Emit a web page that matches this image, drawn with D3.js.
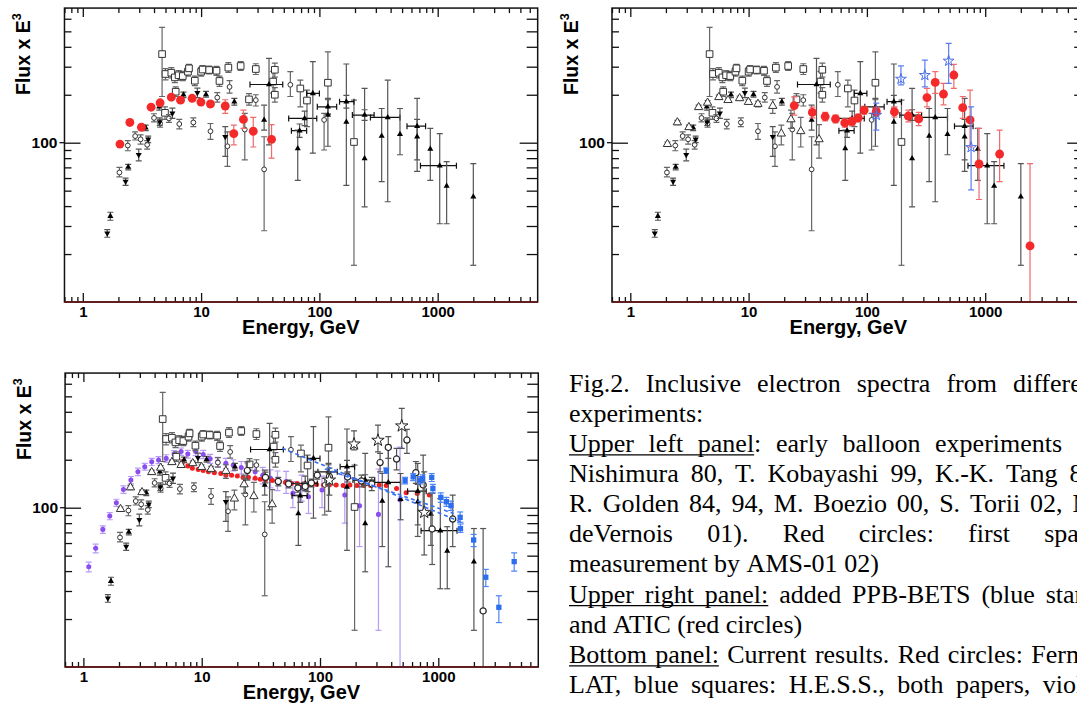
<!DOCTYPE html>
<html>
<head>
<meta charset="utf-8">
<script src="https://cdn.jsdelivr.net/npm/d3@7"></script>
<style>
  body { margin: 0; background: #fff; }
  svg { display: block; }
  .ax { font-family: "Liberation Sans", Arial, sans-serif; font-weight: bold; fill: #000; }
  .cap { font-family: "Liberation Serif", "Times New Roman", serif; font-size: 26px; fill: #000; }
</style>
</head>
<body>
<script>
// values: [energy GeV, flux x E^3, err low, err high, (E low, E high)]
var xTicks = [1, 10, 100, 1000];
var yTicks = [100];

// early balloon data (black, shown in every panel)
var balloonSquares = [
  [4.68, 360, 195, 530], [5.0, 270, 248, 292], [5.6, 275, 255, 296], [6.0, 257, 238, 276],
  [6.45, 265, 247, 284], [7.0, 262, 245, 280], [7.74, 279, 262, 297], [7.9, 293, 276, 310],
  [8.85, 245, 228, 262], [10.0, 279, 262, 296], [10.3, 288, 272, 305], [11.7, 286, 270, 303],
  [13.5, 283, 265, 301], [14.3, 244, 226, 262], [17.0, 296, 276, 318], [21.6, 303, 284, 323],
  [29.0, 290, 268, 313], [40.6, 242, 205, 280], [42.0, 287, 258, 316], [42.0, 200, 180, 222],
  [6.1, 209, 195, 224], [4.95, 154, 140, 168], [69, 219, 168, 247], [118, 238, 150, 372],
  [196, 101, 17, 185], [25.4, 187, 172, 203], [78.5, 184, 126, 214]
];
var balloonCircles = [
  [2.04, 65, 61, 70], [2.4, 96, 89, 103], [2.77, 110, 104, 117], [3.08, 105, 98, 112],
  [3.5, 97, 91, 103], [4.0, 143, 135, 152], [4.5, 132, 125, 140], [5.35, 142, 134, 150],
  [6.54, 131, 122, 140], [8.6, 134, 126, 143], [12.0, 118, 105, 132], [16.7, 95, 71, 117],
  [23.4, 121, 78, 153], [34.1, 68, 28, 109], [13.7, 192, 180, 206], [17.4, 224, 205, 245],
  [29.0, 185, 170, 200], [56.8, 231, 195, 279], [109.6, 139, 90, 153]
];
var balloonTriUp = [
  [1.71, 34.6, 32.6, 36.6], [2.42, 70.3, 67.5, 73], [3.4, 124, 119, 129], [4.43, 168, 160, 176],
  [7.1, 200, 192, 208], [11.0, 201, 193, 210], [19.1, 181, 172, 190], [34.1, 139, 120, 172],
  [37.5, 232, 97, 338, 25.9, 49], [75, 142, 128, 158, 55, 95], [68, 119, 108, 131, 58, 78],
  [65.6, 92, 58, 120], [88, 204, 86, 323, 78, 100], [118, 168, 152, 186, 96, 140],
  [118, 149, 95, 190], [169, 181, 165, 198, 148, 196], [169, 135, 54, 312],
  [241, 149, 138, 161, 190, 290], [241, 79.7, 39.6, 219], [336, 110, 57, 164],
  [378, 144, 42.6, 247, 270, 480], [480, 113, 84, 164], [670, 127, 66, 190, 550, 790],
  [670, 109, 78, 140], [866, 91.3, 58, 123], [1040, 71.7, 31, 114, 715, 1440],
  [1190, 53.5, 31, 76], [2000, 45.8, 17, 74]
];
var balloonTriDown = [
  [1.61, 27, 25.5, 28.5], [2.3, 57, 54, 60], [2.97, 84, 77, 91], [3.57, 105, 100, 110],
  [4.47, 135, 128, 143], [5.72, 153, 142, 165], [9.3, 206, 192, 220], [16.0, 109, 82, 126]
];

// AMS-01 (red in upper left, open triangles elsewhere)
var ams01 = [
  [2.06, 98, 95, 101], [2.5, 134, 130, 138], [3.13, 125, 121, 129], [3.78, 167, 162, 172],
  [4.5, 178, 172, 184], [5.6, 193, 187, 199], [6.7, 185, 179, 191], [8.4, 190, 184, 196],
  [9.97, 180, 174, 186], [12.0, 175, 168, 182], [16.0, 170, 153, 186], [18.9, 114, 97, 129],
  [22.8, 140, 123, 160], [27.6, 118, 94, 144], [39.4, 105, 80, 130]
];

// PPB-BETS
var ppbBets = [
  [120, 149, 120, 177], [194, 251, 231, 304], [309, 265, 224, 330], [491, 326, 236, 420], [760, 93.5, 50.5, 168]
];

// ATIC
var atic = [
  [24.3, 171, 149, 194], [34.6, 155, 143, 167], [44.4, 146, 137, 155], [54.3, 141, 133, 149],
  [65, 133, 125, 141], [75, 136, 128, 144], [84.6, 143, 135, 151], [94.8, 160, 151, 169],
  [120, 157, 147, 167], [171, 156, 145, 168], [224, 147, 135, 160], [274, 141, 128, 155],
  [322, 192, 168, 219], [378, 239, 204, 279], [444, 202, 173, 236], [543, 266, 219, 310],
  [646, 166, 142, 195], [745, 139, 94, 214], [887, 73.5, 44, 123], [1324, 84.9, 57, 120],
  [2393, 22.5, 5, 74]
];

// Fermi LAT
var fermi = [
  [6.82, 190, 180, 200], [7.64, 183], [8.34, 177], [9.35, 174], [10.3, 171], [11.4, 168],
  [12.8, 166], [14.5, 164], [16.0, 160], [17.9, 160], [20.0, 158], [22.4, 155], [24.8, 155],
  [28.3, 153], [31.3, 151], [34.6, 149], [39.6, 148], [44.7, 146], [51.1, 144], [57.3, 142],
  [64.2, 142], [72.4, 141], [82.8, 140], [93.5, 140], [107, 139], [120, 139], [137, 139],
  [157, 138], [179, 139], [205, 138], [235, 138], [268, 138], [317, 139], [363, 138],
  [444, 132], [535, 124], [664, 123], [840, 120]
];

// H.E.S.S.
var hess = [
  [363, 171, 164, 178], [524, 148, 141, 155], [613, 156, 148, 164], [700, 149, 141, 157],
  [738, 153, 145, 161], [880, 155, 146, 164], [900, 132, 124, 140], [1050, 116, 108, 124],
  [1170, 109, 102, 116], [1280, 103, 96, 110], [1530, 87, 81, 94], [1540, 74, 70, 79],
  [1990, 62.7, 57, 68], [2520, 36.6, 32, 41], [3250, 23.7, 19, 28], [4380, 45.8, 40, 52]
];
var hessBandUpper = [[48, 236], [1640, 80]];
var hessBandLower = [[110, 175], [1350, 92]];

// violet points
var violet = [
  [1.11, 42.6, 39.5, 45.5], [1.27, 55.6, 52, 59], [1.46, 73.1, 69, 77], [1.67, 88.6, 84, 93],
  [1.9, 107.5, 102, 113], [2.18, 130, 123, 137], [2.52, 149, 141, 157], [2.89, 168, 159, 177],
  [3.3, 181, 172, 190], [3.78, 194, 184, 204], [4.32, 199, 189, 209], [5.01, 204, 193, 215],
  [5.84, 217, 206, 228], [6.7, 225, 213, 237], [7.63, 217, 205, 229], [8.9, 225, 212, 238],
  [10.3, 216, 203, 229], [11.8, 203, 190, 216], [13.7, 194, 181, 207], [16, 190, 176, 204],
  [18.5, 185, 170, 200], [21.6, 179, 163, 195], [24.4, 172, 155, 189], [28.3, 168, 150, 186],
  [32.8, 160, 141, 179], [38.2, 153, 133, 173], [43.7, 149, 128, 170], [51.7, 146, 123, 169],
  [59, 123, 100, 146], [70, 135, 110, 160], [80, 117, 92, 142], [104, 129, 100, 158],
  [162, 120, 80, 160], [216, 103, 57, 150], [312, 90.8, 17, 175], [475, 112, 5, 240]
];

var captionLines = [
  "Fig.2. Inclusive electron spectra from different",
  "experiments:",
  "Upper left panel: early balloon experiments (J.",
  "Nishimura 80, T. Kobayashi 99, K.-K. Tang 84,",
  "R. Golden 84, 94, M. Boezio 00, S. Torii 02, M.",
  "deVernois 01). Red circles: first space",
  "measurement by AMS-01 02)",
  "Upper right panel: added PPB-BETS (blue stars)",
  "and ATIC (red circles)",
  "Bottom panel: Current results. Red circles: Fermi-",
  "LAT, blue squares: H.E.S.S., both papers, violet"
];
var captionJustified = [true, false, true, true, true, true, false, true, false, true, true];
var captionUnderline = ["", "", "Upper left panel", "", "", "", "", "Upper right panel:", "", "Bottom panel:", ""];

var width = 1077;
var height = 704;

var svg = d3.select("body").append("svg")
  .attr("width", width)
  .attr("height", height);

var decX = 118.3, decY = 159.3;

var panels = [
  {id: "ul", ox: 82.8, base: 302},
  {id: "ur", ox: 630.3, base: 302},
  {id: "bt", ox: 83.4, base: 667}
];

function drawSeries(g, x, y, data, st) {
  var eb = g.append("g").attr("stroke", st.err).attr("stroke-width", st.ew || 1.2).attr("fill", "none");
  var cw = st.cap == null ? 3 : st.cap;
  data.forEach(function(d) {
    var px = x(d[0]), py = y(d[1]);
    if (d[2] != null) {
      var a = y(d[2]), b = y(d[3]);
      eb.append("line").attr("x1", px).attr("x2", px).attr("y1", a).attr("y2", b);
      if (cw > 0) {
        eb.append("line").attr("x1", px - cw).attr("x2", px + cw).attr("y1", a).attr("y2", a);
        eb.append("line").attr("x1", px - cw).attr("x2", px + cw).attr("y1", b).attr("y2", b);
      }
    }
    if (d[4] != null) {
      var l = x(d[4]), r = x(d[5]);
      eb.append("line").attr("x1", l).attr("x2", r).attr("y1", py).attr("y2", py).attr("stroke", "#111");
      eb.append("line").attr("x1", l).attr("x2", l).attr("y1", py - 3).attr("y2", py + 3).attr("stroke", "#111");
      eb.append("line").attr("x1", r).attr("x2", r).attr("y1", py - 3).attr("y2", py + 3).attr("stroke", "#111");
    }
  });
  g.append("g").selectAll("path").data(data).enter()
    .append("path")
    .attr("d", d3.symbol().type(st.type).size(st.size))
    .attr("transform", function(d) {
      return "translate(" + x(d[0]) + "," + y(d[1]) + ")" + (st.flip ? " rotate(180)" : "");
    })
    .attr("fill", st.fill)
    .attr("stroke", st.stroke || "none")
    .attr("stroke-width", st.sw || 1);
}

function drawBalloon(g, x, y) {
  drawSeries(g, x, y, balloonSquares, {type: d3.symbolSquare, size: 44, fill: "#fff", stroke: "#333", sw: 1, err: "#666"});
  drawSeries(g, x, y, balloonCircles, {type: d3.symbolCircle, size: 18, fill: "#fff", stroke: "#333", sw: 1, err: "#666"});
  drawSeries(g, x, y, balloonTriUp, {type: d3.symbolTriangle, size: 16, fill: "#000", err: "#555"});
  drawSeries(g, x, y, balloonTriDown, {type: d3.symbolTriangle, size: 16, fill: "#000", flip: true, err: "#555"});
}

panels.forEach(function(p) {
  var x = d3.scaleLog().domain([0.7, 7000])
    .range([p.ox + decX * Math.log10(0.7), p.ox + decX * Math.log10(7000)]);
  var y = d3.scaleLog().domain([10, 700])
    .range([p.base, p.base - decY * Math.log10(70)]);
  var x0 = x.range()[0], x1 = x.range()[1], y0 = y.range()[0], y1 = y.range()[1];

  var g = svg.append("g");

  svg.append("clipPath").attr("id", "clip-" + p.id)
    .append("rect").attr("x", x0).attr("y", y1).attr("width", x1 - x0).attr("height", y0 - y1);

  var plot = g.append("g").attr("clip-path", "url(#clip-" + p.id + ")");

  if (p.id == "ul") {
    drawBalloon(plot, x, y);
    drawSeries(plot, x, y, ams01, {type: d3.symbolCircle, size: 62, fill: "#f42a2a", err: "#f06a6a", cap: 3});
  }
  if (p.id == "ur") {
    drawBalloon(plot, x, y);
    drawSeries(plot, x, y, ams01, {type: d3.symbolTriangle, size: 30, fill: "#fff", stroke: "#333", sw: 1, err: "#666"});
    drawSeries(plot, x, y, atic, {type: d3.symbolCircle, size: 62, fill: "#f42a2a", err: "#f06a6a"});
    drawSeries(plot, x, y, ppbBets, {type: d3.symbolStar, size: 36, fill: "none", stroke: "#4a6ee8", sw: 1, err: "#5a7ef0"});
  }
  if (p.id == "bt") {
    drawSeries(plot, x, y, violet, {type: d3.symbolCircle, size: 20, fill: "#8a4ef0", err: "#b89af7"});
    drawSeries(plot, x, y, fermi, {type: d3.symbolCircle, size: 20, fill: "#f42020", err: "#f04040", cap: 2});
    drawBalloon(plot, x, y);
    drawSeries(plot, x, y, ams01, {type: d3.symbolTriangle, size: 30, fill: "#fff", stroke: "#333", sw: 1, err: "#666"});
    drawSeries(plot, x, y, atic, {type: d3.symbolCircle, size: 30, fill: "#fff", stroke: "#222", sw: 1.2, err: "#555"});
    drawSeries(plot, x, y, ppbBets, {type: d3.symbolStar, size: 48, fill: "#fff", stroke: "#222", sw: 1, err: "#555"});
    drawSeries(plot, x, y, hess, {type: d3.symbolSquare, size: 28, fill: "#2d6df0", err: "#4d86f5"});
    var line = d3.line().x(function(d) { return x(d[0]); }).y(function(d) { return y(d[1]); });
    [hessBandUpper, hessBandLower].forEach(function(band) {
      plot.append("path").datum(band).attr("d", line)
        .attr("fill", "none").attr("stroke", "#3a6ef0").attr("stroke-width", 1.6)
        .attr("stroke-dasharray", "4,3");
    });
  }

  // tick marks
  var minorX = [], minorY = [];
  for (var k = -1; k <= 3; k++) {
    for (var m = 1; m <= 9; m++) {
      var v = m * Math.pow(10, k);
      if (v > 0.7 && v < 7000 && xTicks.indexOf(v) < 0) minorX.push(v);
    }
  }
  for (var k2 = 1; k2 <= 2; k2++) {
    for (var m2 = 1; m2 <= 9; m2++) {
      var w = m2 * Math.pow(10, k2);
      if (w > 10 && w < 700 && yTicks.indexOf(w) < 0) minorY.push(w);
    }
  }

  function tickStyle(sel) {
    sel.select(".domain").remove();
    sel.selectAll("line").attr("stroke", "#111").attr("stroke-width", 1.3);
  }

  g.append("g").attr("transform", "translate(0," + y0 + ")")
    .call(d3.axisBottom(x).tickValues(minorX).tickSize(-5).tickFormat(""))
    .call(tickStyle);
  g.append("g").attr("class", "ax").attr("transform", "translate(0," + y0 + ")")
    .call(d3.axisBottom(x).tickValues(xTicks).tickSize(-9).tickPadding(4).tickFormat(d3.format("d")))
    .call(tickStyle)
    .selectAll("text").attr("font-size", 15).attr("font-family", "Liberation Sans, Arial, sans-serif").attr("font-weight", "bold");
  g.append("g").attr("transform", "translate(0," + y1 + ")")
    .call(d3.axisTop(x).tickValues(minorX).tickSize(-5).tickFormat(""))
    .call(tickStyle);
  g.append("g").attr("transform", "translate(0," + y1 + ")")
    .call(d3.axisTop(x).tickValues(xTicks).tickSize(-9).tickFormat(""))
    .call(tickStyle);

  g.append("g").attr("transform", "translate(" + x0 + ",0)")
    .call(d3.axisLeft(y).tickValues(minorY).tickSize(-7).tickFormat(""))
    .call(tickStyle);
  g.append("g").attr("transform", "translate(" + x0 + ",0)")
    .call(d3.axisLeft(y).tickValues(yTicks).tickSizeInner(-16).tickPadding(7).tickFormat(d3.format("d")))
    .call(tickStyle)
    .selectAll("text").attr("font-size", 15.5).attr("font-family", "Liberation Sans, Arial, sans-serif").attr("font-weight", "bold");
  g.append("line").attr("x1", x0 - 5).attr("x2", x0).attr("y1", y(100)).attr("y2", y(100))
    .attr("stroke", "#111").attr("stroke-width", 1.3);
  g.append("g").attr("transform", "translate(" + x1 + ",0)")
    .call(d3.axisRight(y).tickValues(minorY).tickSize(-11).tickFormat(""))
    .call(tickStyle);
  g.append("g").attr("transform", "translate(" + x1 + ",0)")
    .call(d3.axisRight(y).tickValues(yTicks).tickSize(-18).tickFormat(""))
    .call(tickStyle);

  // frame
  g.append("rect").attr("x", x0).attr("y", y1).attr("width", x1 - x0).attr("height", y0 - y1)
    .attr("fill", "none").attr("stroke", "#111").attr("stroke-width", 1.5);
  g.append("line").attr("x1", x0).attr("x2", x1).attr("y1", y0).attr("y2", y0)
    .attr("stroke", "#6a1010").attr("stroke-width", 1.6);

  // axis titles
  g.append("text").attr("class", "ax")
    .attr("x", x(1) + 218).attr("y", y0 + 32)
    .attr("text-anchor", "middle").attr("font-size", 20)
    .text("Energy, GeV");
  var yt = g.append("text").attr("class", "ax")
    .attr("transform", "translate(" + (x0 - 34) + "," + (y0 - 207) + ") rotate(-90)")
    .attr("font-size", 19.5);
  yt.append("tspan").text("Flux x E");
  yt.append("tspan").attr("dy", -9).attr("font-size", 12.5).text("3");
});

// caption text, justified like the source document
var capX = 569, capRight = 1102, capTop = 391.5, capStep = 30.15;
var cap = svg.append("g").attr("class", "cap");

captionLines.forEach(function(line, i) {
  var words = line.split(" ");
  var yb = capTop + i * capStep;
  var ts = words.map(function(w) { return cap.append("text").attr("y", yb).text(w); });
  var widths = ts.map(function(t) { return t.node().getComputedTextLength(); });
  var gap = 6.5;
  if (captionJustified[i]) gap = (capRight - capX - d3.sum(widths)) / (words.length - 1);
  var cx = capX, xs = [];
  ts.forEach(function(t, j) { xs.push(cx); t.attr("x", cx); cx += widths[j] + gap; });

  if (captionUnderline[i]) {
    var uw = captionUnderline[i].split(" ");
    var last = uw.length - 1;
    var tmp = cap.append("text").text(uw[last]);
    var lw = tmp.node().getComputedTextLength();
    tmp.remove();
    cap.append("line").attr("x1", capX).attr("x2", xs[last] + lw)
      .attr("y1", yb + 3).attr("y2", yb + 3)
      .attr("stroke", "#000").attr("stroke-width", 1.3);
  }
});
</script>
</body>
</html>
